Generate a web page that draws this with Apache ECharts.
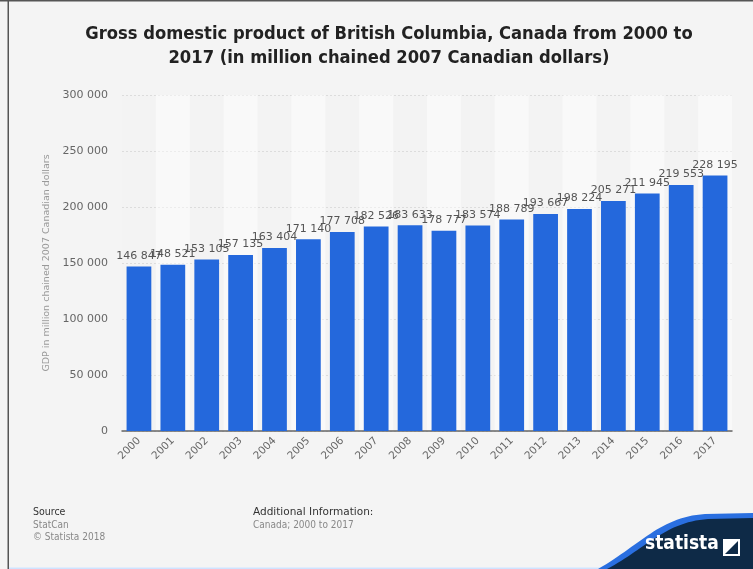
<!DOCTYPE html>
<html>
<head>
<meta charset="utf-8">
<script src="https://cdn.jsdelivr.net/npm/echarts@6/dist/echarts.min.js"></script>
<style>
html,body{margin:0;padding:0;background:#f4f4f4;}
#c{width:753px;height:569px;}
</style>
</head>
<body>
<div id="c"></div>
<script>
var years = ['2000','2001','2002','2003','2004','2005','2006','2007','2008','2009','2010','2011','2012','2013','2014','2015','2016','2017'];
var gdp = [146847,148521,153105,157135,163404,171140,177708,182526,183633,178777,183574,188789,193667,198224,205271,211945,219553,228195];
var yTicks = [0,50000,100000,150000,200000,250000,300000];

function fmt(v){ return String(v).replace(/\B(?=(\d{3})+(?!\d))/g,' '); }

function curve(x0,y0,x1,y1,x2,y2,x3,y3,n){
  var pts=[];
  for(var i=0;i<=n;i++){
    var t=i/n, u=1-t;
    pts.push([u*u*u*x0+3*u*u*t*x1+3*u*t*t*x2+t*t*t*x3, u*u*u*y0+3*u*u*t*y1+3*u*t*t*y2+t*t*t*y3]);
  }
  return pts;
}
var bluePts = curve(598,569,640,545,660,517,705,514,30).concat([[753,513],[753,569]]);
var navyPts = curve(607,569,645,549,665,522,708,519,30).concat([[753,518],[753,569]]);

var chart = echarts.init(document.getElementById('c'));
chart.setOption({
  backgroundColor:'#f4f4f4',
  animation:false,
  title:{
    text:'Gross domestic product of British Columbia, Canada from 2000 to\n2017 (in million chained 2007 Canadian dollars)',
    left:384, textAlign:'center', top:17,
    textStyle:{fontFamily:'DejaVu Sans Condensed', fontWeight:'bold', fontSize:18.2, color:'#222', lineHeight:24}
  },
  grid:{left:122, right:21, top:95, bottom:138},
  xAxis:{
    type:'category', data:years,
    axisLine:{lineStyle:{color:'#666', width:1.5}},
    axisTick:{show:false},
    axisLabel:{rotate:45, color:'#666', fontSize:10.5, fontFamily:'DejaVu Sans', margin:8},
    splitArea:{show:true, areaStyle:{color:['rgba(0,0,0,0.005)','rgba(255,255,255,0.45)']}}
  },
  yAxis:{
    type:'value', min:yTicks[0], max:yTicks[yTicks.length-1], interval:50000,
    name:'GDP in million chained 2007 Canadian dollars',
    nameLocation:'middle', nameGap:70,
    nameTextStyle:{color:'#999', fontSize:9.5, fontFamily:'DejaVu Sans'},
    axisLine:{show:false}, axisTick:{show:false},
    axisLabel:{color:'#666', fontSize:11, fontFamily:'DejaVu Sans', margin:14, formatter:function(v){return fmt(v);}},
    splitLine:{lineStyle:{color:'#dddddd', type:[2,2]}}
  },
  series:[{
    type:'bar', data:gdp, barCategoryGap:'27%',
    itemStyle:{color:'#2468dc'},
    label:{show:true, position:'top', distance:5, color:'#555', fontSize:11, fontFamily:'DejaVu Sans', formatter:function(p){return fmt(p.value);}}
  }],
  graphic:[
    {type:'rect', shape:{x:0,y:0,width:753,height:1.5}, style:{fill:'#555'}},
    {type:'rect', shape:{x:7.5,y:0,width:1.5,height:569}, style:{fill:'#555'}},
    {type:'rect', shape:{x:9,y:567.5,width:744,height:1.5}, style:{fill:'#cfe3ff'}},
    {type:'text', x:33, y:507, style:{text:'Source', fill:'#333', fontSize:10.5, fontFamily:'DejaVu Sans Condensed, DejaVu Sans'}},
    {type:'text', x:33, y:520, style:{text:'StatCan', fill:'#888', fontSize:10, fontFamily:'DejaVu Sans Condensed, DejaVu Sans'}},
    {type:'text', x:33, y:532, style:{text:'\u00a9 Statista 2018', fill:'#888', fontSize:10, fontFamily:'DejaVu Sans Condensed, DejaVu Sans'}},
    {type:'text', x:253, y:507, style:{text:'Additional Information:', fill:'#333', fontSize:10.5, fontFamily:'DejaVu Sans'}},
    {type:'text', x:253, y:520, style:{text:'Canada; 2000 to 2017', fill:'#888', fontSize:10, fontFamily:'DejaVu Sans Condensed, DejaVu Sans'}},
    {type:'polygon', shape:{points:bluePts}, style:{fill:'#2a6fe0'}},
    {type:'polygon', shape:{points:navyPts}, style:{fill:'#0e2a47'}},
    {type:'text', x:645, y:535, style:{text:'statista', fill:'#fff', fontSize:19, fontWeight:'bold', fontFamily:'DejaVu Sans Condensed, DejaVu Sans'}},
    {type:'rect', shape:{x:723,y:539,width:17,height:17}, style:{fill:'#fff'}},
    {type:'polygon', shape:{points:[[725,554],[738,541],[738,554]]}, style:{fill:'#0e2a47'}}
  ]
});
</script>
</body>
</html>
